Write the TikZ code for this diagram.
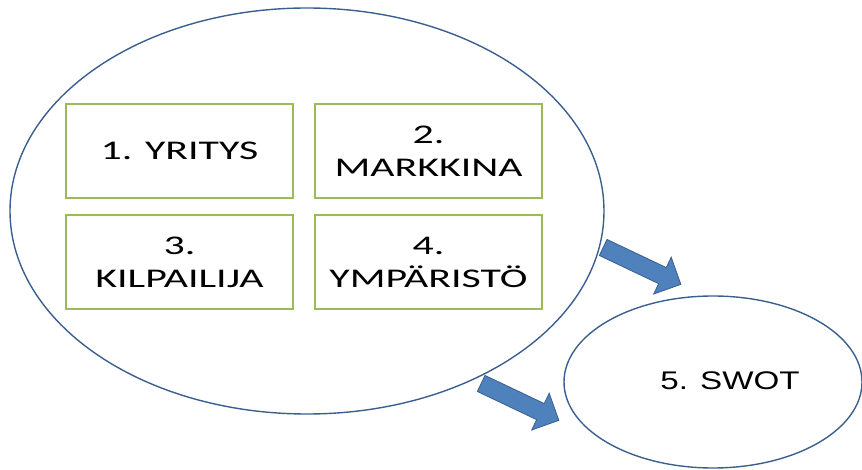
\documentclass[tikz,border=0pt]{standalone}
\usepackage{fontspec}
\usepackage{tikz}
\usetikzlibrary{shapes.geometric, shapes.arrows, positioning}
\newfontfamily\boxfont{Carlito}[FakeStretch=1.55]
\newfontfamily\swotfont{Liberation Sans}[FakeStretch=1.3]
\definecolor{ringblue}{HTML}{3A5F8E}
\definecolor{arrowblue}{HTML}{4F81BD}
\definecolor{boxgreen}{HTML}{9BBB59}

\begin{document}
\begin{tikzpicture}[x=1pt,y=-1pt,semithick]
	\tikzset{bubble/.style={ellipse, draw=ringblue, line width=1.4pt, inner sep=0pt},
		area/.style={rectangle, draw=boxgreen, line width=1.4pt, minimum width=227pt, minimum height=94pt, align=center, font=\boxfont\fontsize{27}{33}\selectfont},
		bigarrow/.style={single arrow, draw=ringblue, fill=arrowblue, line width=0.8pt, inner xsep=0pt, inner ysep=8.5pt, text height=0pt, text depth=0pt, single arrow head extend=11.5pt, minimum height=86pt, rotate=-25.4}}
	\useasboundingbox (0,0) rectangle (862,470);
	\clip (0,0) rectangle (862,470);
	\node[bubble, minimum width=594pt, minimum height=406pt] (analysis) at (307,211) {};
	\node[bubble, minimum width=298pt, minimum height=172pt] (swot) at (713,382) {};
	\node[font=\swotfont\fontsize{25.5}{30}\selectfont] (swotlabel) at ([xshift=17pt,yshift=1pt]swot.center) {5. SWOT};
	\node[area] (company) at (179.5,151) {1. YRITYS};
	\node[area] (market) at (428.5,151) {2.\\MARKKINA};
	\node[area] (rival) at (179.5,262) {3.\\KILPAILIJA};
	\node[area] (environment) at (428.5,262) {4.\\YMPÄRISTÖ};
	\node[bigarrow] (arrowA) at (638,264) {};
	\node[bigarrow] (arrowB) at (516,400) {};
\end{tikzpicture}
\end{document}
